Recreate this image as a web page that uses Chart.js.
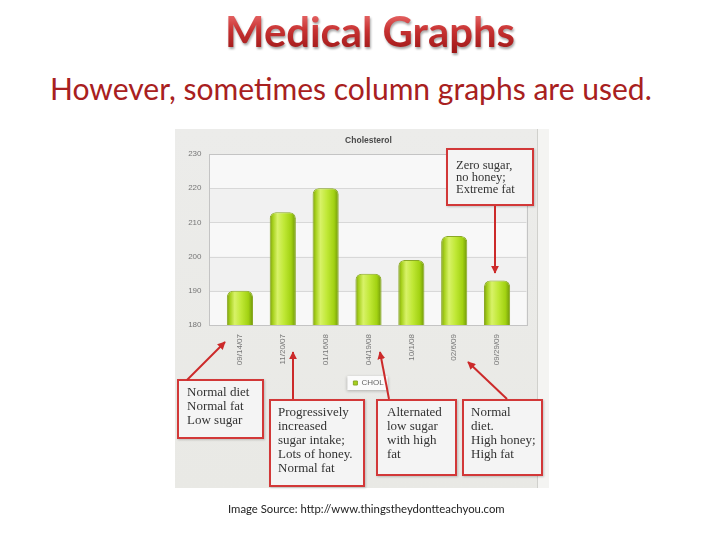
<!DOCTYPE html>
<html><head><meta charset="utf-8">
<script src="https://cdn.jsdelivr.net/npm/chart.js@4.4.1/dist/chart.umd.min.js"></script>
<style>
html,body{margin:0;padding:0;background:#fff;width:728px;height:546px;overflow:hidden;position:relative;font-family:Lato,'Open Sans',sans-serif;}
.t{position:absolute;white-space:nowrap;line-height:1;}
#title{font-size:40px;font-weight:700;color:#c43232;background:linear-gradient(180deg,#ec7070 0%,#c83232 45%,#9c1616 100%);-webkit-background-clip:text;background-clip:text;-webkit-text-fill-color:transparent;filter:drop-shadow(1px 2px 1.2px rgba(0,0,0,0.35));}
#sub{font-size:28px;color:#a82020;}
#cap{font-size:11px;color:#222;}
#panel{position:absolute;left:175px;top:129px;width:373px;height:359px;background:linear-gradient(180deg,#ececea 0%,#e9e9e5 100%);}
#panel .edge{position:absolute;left:362px;top:0;width:11px;height:359px;background:#f4f4f2;border-left:1px solid #d0d0cc;}
#panel canvas{position:absolute;left:0;top:0;}
.note{position:absolute;box-sizing:border-box;border:2px solid #d23838;background:#f4f4f4;font-family:'Liberation Serif','DejaVu Serif',serif;color:#333;font-size:13px;line-height:14px;box-shadow:1px 1px 2px rgba(0,0,0,0.2);white-space:nowrap;}
svg{position:absolute;left:0;top:0;}
</style></head>
<body>
<div id="title" class="t">Medical Graphs</div>
<div id="sub" class="t">However, sometimes column graphs are used.</div>

<div id="panel"><div class="edge"></div><canvas id="c" width="373" height="359"></canvas></div>

<div class="note" style="left:446px;top:148px;width:88px;height:58px;font-size:12.5px;line-height:12px;padding:9px 0 0 8px;">Zero sugar,<br>no honey;<br>Extreme fat</div>
<div class="note" style="left:177px;top:379px;width:87px;height:60px;padding:4px 0 0 8px;">Normal diet<br>Normal fat<br>Low sugar</div>
<div class="note" style="left:269px;top:399px;width:96px;height:88px;padding:4px 0 0 7px;">Progressively<br>increased<br>sugar intake;<br>Lots of honey.<br>Normal fat</div>
<div class="note" style="left:376px;top:399px;width:81px;height:77px;padding:4px 0 0 9px;">Alternated<br>low sugar<br>with high<br>fat</div>
<div class="note" style="left:462px;top:399px;width:81px;height:77px;padding:4px 0 0 7px;">Normal<br>diet.<br>High honey;<br>High fat</div>

<svg width="728" height="546">
<defs><marker id="ah" viewBox="0 0 10 10" refX="9" refY="5" markerWidth="4" markerHeight="4" orient="auto"><path d="M0,0 L10,5 L0,10 z" fill="#cc2a2a"/></marker></defs>
<g stroke="#cc2a2a" stroke-width="2" fill="none" marker-end="url(#ah)">
<line x1="187" y1="380" x2="225" y2="342"/>
<line x1="293" y1="399" x2="293" y2="352"/>
<line x1="389" y1="399" x2="380" y2="352"/>
<line x1="507" y1="399" x2="468" y2="362"/>
<line x1="495" y1="206" x2="495" y2="273"/>
</g>
</svg>

<div id="cap" class="t">Image Source: http://www.thingstheydontteachyou.com</div>

<script>
// ---- data ----
const categories = ['09/14/07','11/20/07','01/16/08','04/19/08','10/1/08','02/6/09','09/29/09'];
const cholValues = [190, 213, 220, 195, 199, 206, 193];
const yTickValues = [180, 190, 200, 210, 220, 230];
const seriesName = 'CHOL';
const chartTitle = 'Cholesterol';

// ---- slide text placement ----
function place(id, left, width, baseline){
  const el = document.getElementById(id);
  const fs = parseFloat(getComputedStyle(el).fontSize);
  const w = el.getBoundingClientRect().width;
  el.style.fontSize = (fs * width / w) + 'px';
  const m = document.createElement('span');
  m.style.cssText = 'display:inline-block;width:0;height:0;';
  el.appendChild(m);
  el.style.left = left + 'px';
  el.style.top = '0px';
  const off = m.getBoundingClientRect().top - el.getBoundingClientRect().top;
  el.style.top = (baseline - off) + 'px';
}
place('title', 225, 290, 47);
place('sub', 50, 602, 100);
place('cap', 228, 277, 513);

// ---- chart ----
Chart.defaults.font.family = "'Liberation Sans', Arial, sans-serif";
const TARGET = {top: 25, bottom: 196};

const plotBg = {
  id: 'plotBg',
  beforeDraw(chart){
    const {ctx, chartArea: a, scales: {y}} = chart;
    const L = a.left - 9.5, R = a.right + 8;
    ctx.save();
    const vals = yTickValues;
    for (let i = 0; i < vals.length - 1; i++){
      const y0 = y.getPixelForValue(vals[i]), y1 = y.getPixelForValue(vals[i+1]);
      ctx.fillStyle = (i % 2 === 0) ? '#f8f8f8' : '#f1f1f1';
      ctx.fillRect(L, y1, R - L, y0 - y1);
    }
    ctx.strokeStyle = '#d8d8d8'; ctx.lineWidth = 1;
    vals.forEach(v => {
      const py = Math.round(y.getPixelForValue(v)) + 0.5;
      ctx.beginPath(); ctx.moveTo(L, py); ctx.lineTo(R, py); ctx.stroke();
    });
    ctx.strokeStyle = '#c4c4c4';
    ctx.strokeRect(Math.round(L)+0.5, Math.round(a.top)+0.5, Math.round(R-L), Math.round(a.bottom-a.top));
    // legend box
    const hb = chart.legend && chart.legend.legendHitBoxes && chart.legend.legendHitBoxes[0];
    if (hb){
      ctx.shadowColor = 'rgba(0,0,0,0.25)'; ctx.shadowBlur = 3; ctx.shadowOffsetY = 1;
      ctx.fillStyle = '#fbfbfb';
      ctx.fillRect(hb.left - 6, hb.top - 3, hb.width + 10, hb.height + 6);
    }
    ctx.restore();
  },
  beforeDatasetsDraw(chart){
    const ctx = chart.ctx;
    chart.getDatasetMeta(0).data.forEach(bar => {
      const {x, width} = bar.getProps(['x','width'], true);
      const g = ctx.createLinearGradient(x - width/2, 0, x + width/2, 0);
      g.addColorStop(0, '#7c9c12');
      g.addColorStop(0.12, '#a6d01c');
      g.addColorStop(0.3, '#d8f268');
      g.addColorStop(0.55, '#c0e836');
      g.addColorStop(0.82, '#a2d212');
      g.addColorStop(1, '#6f960a');
      bar.options = Object.assign({}, bar.options, {backgroundColor: g});
    });
  }
};

const chart = new Chart(document.getElementById('c'), {
  type: 'bar',
  data: {
    labels: categories,
    datasets: [{
      label: seriesName,
      data: cholValues,
      backgroundColor: '#a6d21c',
      borderColor: '#8aa826',
      borderWidth: 1,
      borderRadius: {topLeft: 6, topRight: 6, bottomLeft: 0, bottomRight: 0},
      borderSkipped: 'bottom',
      barPercentage: 0.61,
      categoryPercentage: 1
    }]
  },
  options: {
    responsive: false,
    animation: false,
    devicePixelRatio: 1,
    layout: {padding: {left: 0, right: 29.5, top: 0, bottom: 60}},
    plugins: {
      title: {display: true, text: chartTitle, fullSize: false, color: '#4a4a4a',
              font: {size: 8.5, weight: 'bold'}, padding: {top: 7, bottom: 8}},
      legend: {display: true, position: 'bottom', fullSize: false,
               labels: {usePointStyle: true, pointStyle: 'rect', boxWidth: 4, boxHeight: 4,
                        color: '#666', font: {size: 8}, padding: 5}},
      tooltip: {enabled: false}
    },
    scales: {
      x: {
        offset: true,
        grid: {display: false, drawTicks: false},
        border: {display: false},
        ticks: {minRotation: 90, maxRotation: 90, autoSkip: false, padding: 9, color: '#777', font: {size: 8}},
        afterFit(s){ s.height = 49; }
      },
      y: {
        min: 180, max: 230,
        grid: {display: false, drawTicks: false},
        border: {display: false},
        afterBuildTicks(s){ s.ticks = yTickValues.map(v => ({value: v})); },
        ticks: {padding: 17, color: '#777', font: {size: 8}},
        afterFit(s){ s.width = 43.5; }
      }
    }
  },
  plugins: [plotBg]
});

// fine-tune vertical layout so the plot area sits where the reference has it
const a = chart.chartArea;
chart.options.layout.padding.bottom += (a.bottom - TARGET.bottom);
chart.options.layout.padding.top += (TARGET.top - a.top);
chart.update('none');
</script>
</body></html>
